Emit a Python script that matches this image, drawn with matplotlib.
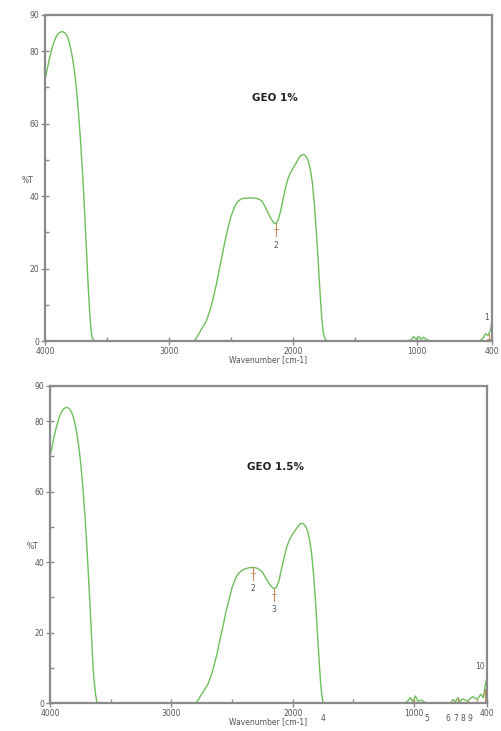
import matplotlib
matplotlib.use("Agg")
import matplotlib.pyplot as plt
import numpy as np

# GEO 1% spectrum
wn_1 = [4000, 3985, 3970, 3955, 3940, 3925, 3910, 3895, 3880, 3865, 3850, 3835,
        3820, 3805, 3790, 3775, 3760, 3745, 3730, 3715, 3700, 3690, 3680, 3670,
        3660, 3650, 3640, 3630, 3620, 3600, 2800, 2780, 2760, 2730, 2700, 2670,
        2650, 2620, 2600, 2570, 2550, 2520, 2500, 2470, 2450, 2420, 2400, 2350,
        2300, 2270, 2250, 2225, 2200, 2180, 2160, 2145, 2135, 2120, 2100, 2080,
        2060, 2040, 2020, 2000, 1980, 1960, 1940, 1920, 1905, 1890, 1875, 1860,
        1845, 1830, 1815, 1800, 1790, 1780, 1770, 1760, 1750, 1740, 1720, 1100,
        1050, 1030, 1010, 990, 970, 950, 920, 880, 500, 470, 450, 430, 410, 400]
t_1 = [72, 74.5, 77, 79.3, 81.2, 82.8, 84, 84.8, 85.2, 85.4, 85.3, 84.9,
       84, 82.5, 80.3, 77.5, 73.8, 69, 63, 56, 48, 42, 35, 28,
       21, 14, 8, 3.5, 0.8, 0, 0, 0.8, 2, 3.8, 5.5, 8.5,
       11, 15.5, 19, 24, 27.5, 32, 34.5, 37.2, 38.4, 39.2, 39.4, 39.5,
       39.4, 39.1, 38.5, 37, 35.2, 33.8, 32.8, 32.4, 32.5, 33.6, 36, 39.5,
       42.5, 45, 46.6, 47.8, 48.9, 50.2, 51.2, 51.5, 51.3, 50.6, 49.3, 47,
       43.5, 38, 31, 23, 17, 11.5, 6.5, 3, 1.2, 0.4, 0, 0,
       0.3, 1.2, 0.5, 1.3, 0.5, 1.0, 0.3, 0, 0, 0.8, 2, 1.5, 3, 5]

# GEO 1.5% spectrum
wn_2 = [4000, 3985, 3970, 3955, 3940, 3925, 3910, 3895, 3880, 3865, 3850, 3835,
        3820, 3805, 3790, 3775, 3760, 3745, 3730, 3715, 3700, 3690, 3680, 3670,
        3660, 3650, 3640, 3625, 3615, 3600, 2800, 2780, 2760, 2730, 2700, 2670,
        2650, 2620, 2600, 2570, 2550, 2520, 2500, 2470, 2450, 2420, 2400, 2360,
        2320, 2290, 2260, 2240, 2220, 2200, 2180, 2165, 2150, 2135, 2115, 2090,
        2070, 2050, 2025, 2000, 1980, 1960, 1940, 1926, 1910, 1890, 1875, 1860,
        1845, 1830, 1815, 1800, 1790, 1780, 1770, 1760, 1750, 1100, 1060, 1030,
        1010, 990, 970, 940, 900, 700, 680, 660, 640, 620, 600, 560, 520, 480,
        450, 430, 415, 400]
t_2 = [70, 72.5, 75, 77.3, 79.3, 81, 82.3, 83.2, 83.7, 83.9, 83.8, 83.3,
       82.4, 80.8, 78.6, 75.7, 72, 67.3, 61.5, 54.5, 46.5, 40.5, 34, 27.5,
       20.5, 13.5, 7.5, 2.5, 0.5, 0, 0, 0.8, 2, 3.6, 5.3, 8,
       10.5, 14.5, 18, 22.5, 26, 30, 32.8, 35.5, 36.7, 37.6, 38, 38.4,
       38.5, 38.2, 37.5, 36.6, 35.3, 34.2, 33.2, 32.7, 32.5, 32.9, 34.5, 38.5,
       41.5, 44.3, 46.5, 48, 49, 50, 50.8, 51, 50.8, 49.9, 48.5, 46,
       42.5, 37, 30, 22, 16, 10.5, 5.5, 2, 0, 0, 0.3, 1.5,
       0.4, 2, 0.5, 0.8, 0, 0, 1, 0.3, 1.5, 0.4, 1.2, 0.5, 1.8, 1,
       2.5, 1.5, 5, 7]

# peak picks: position, %T, label, label x position
pk_wn_1 = [420, 2140]
pk_t_1 = [2, 32.5]
pk_lab_1 = ["1", "2"]
pk_labx_1 = [440, 2140]
pk_laby_1 = [6.5, 26.5]

pk_wn_2 = [2330, 2156, 1750, 1000, 700, 640, 560, 480, 420]
pk_t_2 = [38.5, 32.5, 0, 1, 0.5, 1.5, 0.5, 1, 4]
pk_lab_2 = ["2", "3", "4", "5", "6", "7", "8", "9", "10"]
pk_labx_2 = [2330, 2156, 1750, 900, 720, 660, 600, 540, 460]
pk_laby_2 = [32.5, 26.5, -4.5, -4.5, -4.5, -4.5, -4.5, -4.5, 10.5]

titles = ["GEO 1%", "GEO 1.5%"]
xticks = [4000, 3000, 2000, 1000, 400]
yticks = [0, 20, 40, 60, 80, 90]

green = "#6cbf5a"
pick = "#c9895a"
grey = "#8a8a8a"

fig = plt.figure(figsize=(5.02, 7.31), dpi=100)
ax1 = fig.add_axes([0.0896, 0.5335, 0.890, 0.446])
ax2 = fig.add_axes([0.0996, 0.0383, 0.8705, 0.4337])

panels = [(ax1, wn_1, t_1, pk_wn_1, pk_t_1, pk_lab_1, pk_labx_1, pk_laby_1, 0),
          (ax2, wn_2, t_2, pk_wn_2, pk_t_2, pk_lab_2, pk_labx_2, pk_laby_2, 1)]

for ax, wn, t, pw, pt, pl, lx, ly, i in panels:
    ax.plot(wn, t, color=green, lw=1.0)
    ax.set_xlim(4000, 400)
    ax.set_ylim(0, 90)
    ax.set_xticks(xticks)
    ax.set_yticks(yticks)
    ax.set_xticks([3500, 2500, 1500], minor=True)
    ax.set_yticks([10, 30, 50, 70], minor=True)
    ax.tick_params(which="major", direction="inout", length=6, width=1,
                   color=grey, labelsize=5.5, labelcolor="#555555", pad=1)
    ax.tick_params(which="minor", direction="in", length=3, width=1, color=grey)
    for s in ax.spines.values():
        s.set_color(grey)
        s.set_linewidth(1.6)
    ax.set_xlabel("Wavenumber [cm-1]", fontsize=5.5, color="#555555", labelpad=0)
    ax.set_ylabel("%T", fontsize=5.5, color="#555555", rotation=0, labelpad=6)
    ax.yaxis.set_label_coords(-0.04, 0.48)
    ax.text(0.515, 0.745, titles[i], transform=ax.transAxes, fontsize=7.5,
            fontweight="bold", ha="center", va="center", color="#222222")
    # peak markers
    for w, v, lab, x_l, y_l in zip(pw, pt, pl, lx, ly):
        ax.plot([w, w], [v, v - 3.5], color=pick, lw=0.8)
        ax.plot([w - 15, w + 15], [v - 1.5, v - 1.5], color=pick, lw=0.6)
        ax.text(x_l, y_l, lab, fontsize=5.5, color="#555555", ha="center",
                va="center", clip_on=False)

fig.savefig("out.png", dpi=100)
